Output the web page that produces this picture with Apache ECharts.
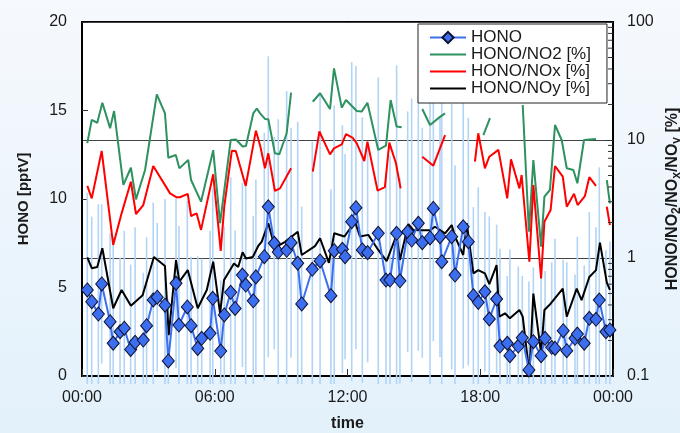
<!DOCTYPE html>
<html>
<head>
<meta charset="utf-8">
<script src="https://cdn.jsdelivr.net/npm/echarts@6/dist/echarts.min.js"></script>
<style>
  html, body { margin: 0; padding: 0; }
  #chart { width: 680px; height: 433px; }
</style>
</head>
<body>
<div id="chart"></div>
<script>
// time in hours after midnight
var timeLabels = ['00:00', '06:00', '12:00', '18:00', '00:00'];

var honoTime = [0.24, 0.44, 0.74, 0.89, 1.27, 1.41, 1.72, 1.91, 2.2, 2.4, 2.77, 2.92, 3.22, 3.4, 3.75, 3.9,
  4.25, 4.38, 4.76, 4.93, 5.23, 5.41, 5.79, 5.91, 6.27, 6.43, 6.72, 6.92, 7.25, 7.4, 7.74, 7.86,
  8.24, 8.42, 8.69, 8.87, 9.25, 9.45, 9.75, 9.93, 10.41, 10.76, 11.25, 11.4, 11.77, 11.89, 12.19, 12.38,
  12.67, 12.91, 13.39, 13.74, 13.92, 14.22, 14.37, 14.72, 14.9, 15.2, 15.38, 15.73, 15.88, 16.18, 16.26,
  16.71, 16.86, 17.23, 17.46, 17.69, 17.91, 18.21, 18.41, 18.74, 18.89, 19.22, 19.34, 19.72, 19.9, 20.2,
  20.4, 20.75, 20.93, 21.23, 21.38, 21.75, 21.91, 22.28, 22.39, 22.7, 22.93, 23.23, 23.38, 23.68, 23.86];
var honoValue = [4.86, 4.2, 3.5, 5.2, 3.07, 1.85, 2.5, 2.7, 1.5, 1.9, 2.03, 2.84, 4.3, 4.45, 4.0, 0.85,
  5.24, 2.88, 3.9, 2.84, 1.56, 2.13, 2.41, 4.39, 1.41, 3.45, 4.73, 3.82, 5.7, 5.14, 4.25, 5.6,
  6.74, 9.56, 7.5, 7.0, 7.1, 7.53, 6.37, 4.07, 6.03, 6.5, 4.54, 7.08, 7.16, 6.74, 8.72, 9.51,
  7.12, 6.97, 8.06, 5.42, 5.42, 8.06, 5.38, 8.15, 7.68, 8.63, 7.53, 7.8, 9.47, 7.87, 6.46,
  7.87, 5.7, 8.43, 7.59, 4.54, 4.16, 4.76, 3.22, 4.35, 1.69, 1.85, 1.15, 1.69, 2.16, 0.34,
  1.94, 1.15, 2.13, 1.62, 1.56, 2.56, 1.43, 2.13, 2.37, 1.85, 3.26, 3.2, 4.29, 2.5, 2.6];
var honoErr = [5.5, 4.8, 6.2, 4.5, 5.0, 6.0, 4.2, 5.5, 4.8, 6.5, 3.8, 5.0, 5.5, 4.2, 6.0, 3.5,
  4.8, 5.6, 6.0, 3.9, 5.2, 4.5, 5.8, 6.2, 4.0, 5.0, 6.5, 4.4, 5.2, 6.0, 4.8, 5.5,
  7.0, 8.5, 6.0, 7.5, 9.0, 6.5, 8.0, 5.5, 7.2, 9.5, 6.0, 8.2, 7.0, 5.8, 9.0, 8.0,
  7.5, 6.2, 8.8, 6.0, 7.0, 9.5, 5.8, 6.8, 8.0, 7.2, 6.5, 8.8, 7.5, 6.8, 9.0,
  7.5, 6.2, 8.0, 7.0, 5.0, 6.5, 4.5, 5.8, 4.2, 5.5, 3.8, 6.0, 4.5, 3.5, 5.0,
  4.2, 5.5, 3.8, 4.8, 6.2, 4.0, 5.0, 3.6, 5.5, 4.4, 6.0, 5.2, 7.5, 4.6, 5.0];

var no2Time = [0.24, 0.44, 0.69, 0.92, 1.27, 1.45, 1.87, 2.21, 2.44, 2.85, 3.38, 3.75, 3.9, 4.24, 4.4, 4.8,
  4.93, 5.38, 5.93, 6.24, 6.72, 6.96, 7.26, 7.41, 7.74, 7.9, 8.05, 8.27, 8.42, 8.72, 8.92, 9.25, 9.45,
  9.9, 10.43, 10.76, 11.21, 11.39, 11.74, 11.93, 12.42, 12.64, 12.9, 13.39, 13.74, 13.95, 14.22, 14.45,
  14.9, 15.38, 15.73, 16.18, 16.41, 17.3, 18.14, 18.44, 19.2, 19.92, 20.2, 20.4, 20.75, 20.9, 21.15,
  21.38, 21.68, 21.91, 22.21, 22.39, 22.69, 23.23, 23.5, 23.72, 23.86];
var no2Value = [9.4, 14.8, 14.0, 20.7, 12.6, 17.6, 4.16, 5.82, 3.14, 5.57, 24.4, 16.8, 7.08, 7.46, 5.75, 6.77,
  4.58, 3.0, 8.2, 1.97, 10.0, 10.1, 8.8, 8.9, 16.8, 18.5, 16.8, 15.1, 15.0, 7.71, 7.57, 11.4, 25.2,
  null, 21.1, 24.9, 18.3, 40.5, 18.8, 21.8, 17.6, 17.4, 20.7, 8.23, 8.95, 21.8, 13.0, 12.8,
  null, 18.3, 13.4, 15.7, 16.8, null, 11.0, 15.3, null, 19.8, 1.67, 6.77, 1.25, 3.31, 3.77,
  13.4, 10.0, 5.76, 5.57, 4.3, 10.0, 10.2, null, 4.58, 2.91];

var noxTime = [0.24, 0.44, 0.89, 1.41, 1.79, 2.21, 2.44, 2.77, 3.22, 3.98, 4.28, 4.43, 4.78, 4.93, 5.18, 5.38,
  5.93, 6.27, 6.43, 6.77, 6.95, 7.4, 7.86, 8.05, 8.27, 8.42, 8.72, 8.95, 9.45, 9.9, 10.43, 10.73,
  11.21, 11.39, 11.74, 11.93, 12.24, 12.42, 12.76, 12.9, 13.36, 13.69, 13.89, 14.19, 14.4, 14.9,
  15.38, 15.88, 16.41, 17.1, 17.76, 17.91, 18.21, 18.41, 18.82, 19.22, 19.39, 19.77, 19.87, 20.22,
  20.4, 20.75, 20.9, 21.18, 21.38, 21.73, 21.91, 22.24, 22.4, 22.73, 22.93, 23.23, 23.5, 23.72, 23.86];
var noxValue = [4.08, 3.2, 8.07, 1.29, 2.39, 4.43, 2.36, 2.81, 6.02, 3.53, 3.27, 3.27, 3.5, 2.27, 2.39, 1.73,
  5.12, 1.15, 2.72, 8.1, 8.07, 4.08, 12.0, 9.0, 5.76, 7.71, 3.7, 3.89, 5.76, null, 5.39, 11.8,
  7.56, 8.5, 9.2, 11.2, 10.4, 9.38, 6.64, 9.68, 3.72, 3.98, 9.5, 6.35, 3.89, null,
  7.22, 6.06, 11.0, null, 6.55, 11.4, 5.76, 7.22, 8.25, 3.2, 6.86, 3.89, 5.05, 0.93,
  4.16, 0.67, 2.03, 2.55, 6.02, 4.89, 2.72, 3.5, 2.81, 3.35, 4.84, 4.08, null, 2.72, 1.9];

var noyTime = [0.24, 0.44, 0.69, 0.92, 1.41, 1.79, 2.21, 2.74, 3.25, 3.75, 3.92, 4.25, 4.4, 4.78, 5.23, 5.64,
  5.93, 6.24, 6.42, 6.87, 7.06, 7.26, 7.41, 7.72, 7.97, 8.12, 8.42, 8.65, 8.8, 9.18, 9.75, 9.93,
  10.53, 10.76, 11.16, 11.4, 11.86, 12.34, 12.56, 12.94, 13.39, 13.77, 14.22, 14.37, 14.75, 14.97,
  15.35, 15.73, 15.95, 16.41, 16.71, 16.86, 17.23, 17.39, 17.69, 17.91, 18.21, 18.41, 18.74, 18.86,
  19.12, 19.34, 19.77, 19.92, 20.22, 20.4, 20.75, 20.9, 21.18, 21.73, 21.91, 22.36, 22.58, 22.93,
  23.23, 23.41, 23.72, 23.86];
var noyValue = [1.01, 0.82, 0.84, 1.21, 0.375, 0.536, 0.394, 0.483, 1.02, 0.856, 0.222, 0.96, 0.63, 0.79, 0.375, 0.536,
  0.93, 0.34, 0.65, 0.9, 0.84, 1.12, 0.99, 1.02, 1.27, 1.37, 1.97, 1.37, 1.25, 1.37, 1.67, 1.06,
  1.26, 1.47, 0.91, 1.62, 1.52, 2.03, 1.52, 1.57, 1.17, 0.94, 1.57, 0.96, 1.94, 1.73,
  1.72, 1.72, 1.84, 1.62, 1.9, 1.52, 1.06, 1.97, 0.74, 0.79, 0.74, 0.6, 0.87, 0.318,
  0.34, 0.308, 0.363, 0.318, 0.105, 0.5, 0.156, 0.363, 0.41, 0.55, 0.318, 0.55, 0.44, 0.69,
  0.79, 1.35, 0.62, 0.536];

var logMinorTicks = [0.2, 0.3, 0.4, 0.5, 0.6, 0.7, 0.8, 0.9, 2, 3, 4, 5, 6, 7, 8, 9, 20, 30, 40, 50, 60, 70, 80, 90];

function pairs(times, values) {
  return times.map(function (t, i) {
    return [t, values[i] == null ? '-' : values[i]];
  });
}

var font = '"Liberation Sans", Arial, sans-serif';
var ink = '#1a1a1a';

var chart = echarts.init(document.getElementById('chart'), null, { renderer: 'canvas' });

// ratio lines show only a line in the legend
var lineOnly = { opacity: 0 };

chart.setOption({
  animation: false,
  backgroundColor: {
    type: 'linear', x: 0, y: 0, x2: 0, y2: 1,
    colorStops: [{ offset: 0, color: '#f6f9fd' }, { offset: 1, color: '#e3f1fb' }]
  },
  textStyle: { fontFamily: font },
  grid: {
    left: 82, right: 67, top: 22, bottom: 57,
    outerBoundsMode: 'none',
    show: true, backgroundColor: '#ffffff', borderColor: '#000', borderWidth: 2
  },
  legend: {
    data: [
      { name: 'HONO' },
      { name: 'HONO/NO2 [%]', itemStyle: lineOnly },
      { name: 'HONO/NOx [%]', itemStyle: lineOnly },
      { name: 'HONO/NOy [%]', itemStyle: lineOnly }
    ],
    orient: 'vertical',
    left: 418, top: 24,
    backgroundColor: '#ffffff',
    borderColor: '#222', borderWidth: 1, borderRadius: 0,
    padding: [5, 16, 6, 11],
    itemWidth: 36, itemHeight: 14, itemGap: 0,
    textStyle: { fontSize: 17, lineHeight: 17, color: ink, fontFamily: font }
  },
  xAxis: {
    type: 'value', min: 0, max: 24, interval: 6,
    axisLine: { lineStyle: { color: '#000', width: 2 } },
    axisTick: { inside: true, length: 7, lineStyle: { color: '#333', width: 1 } },
    splitLine: { show: false },
    axisLabel: {
      fontSize: 16, color: ink, margin: 14,
      formatter: function (v) { return timeLabels[Math.round(v / 6)]; }
    },
    name: 'time', nameLocation: 'middle', nameGap: 40,
    nameTextStyle: { fontSize: 16, fontWeight: 'bold', color: ink }
  },
  yAxis: [
    {
      type: 'value', min: 0, max: 20, interval: 5, position: 'left',
      axisLine: { show: true, lineStyle: { color: '#000', width: 2 } },
      axisTick: { show: true, inside: true, length: 6, lineStyle: { color: '#333' } },
      splitLine: { show: false },
      axisLabel: { fontSize: 16, color: ink, margin: 15 },
      name: 'HONO [pptV]', nameLocation: 'middle', nameGap: 51,
      nameTextStyle: { fontSize: 15, fontWeight: 'bold', color: ink }
    },
    {
      type: 'log', logBase: 10, min: 0.1, max: 100, position: 'right',
      axisLine: { show: true, lineStyle: { color: '#000', width: 2 } },
      axisTick: { show: true, inside: true, length: 8, lineStyle: { color: '#333' } },
      splitLine: { show: true, lineStyle: { color: '#444', width: 1 } },
      axisLabel: {
        fontSize: 16, color: ink, margin: 14,
        formatter: function (v) { return String(+Number(v).toPrecision(3)); }
      },
      name: 'HONO/NO{s|2}/NO{s|x}/NO{s|y} [%]', nameLocation: 'middle', nameGap: 49,
      nameTextStyle: {
        fontSize: 16, fontWeight: 'bold', color: ink,
        rich: { s: { fontSize: 12, fontWeight: 'bold', color: ink, padding: [8, 0, 0, 0] } }
      }
    }
  ],
  series: [
    {
      type: 'custom', name: 'err', yAxisIndex: 0, silent: true, clip: false, z: 1,
      data: honoTime.map(function (t, i) { return [t, honoValue[i], honoErr[i]]; }),
      encode: { x: 0, y: 1 },
      renderItem: function (params, api) {
        var t = api.value(0), v = api.value(1), e = api.value(2);
        var lo = api.coord([t, Math.max(v - e, -0.45)]);
        var hi = api.coord([t, v + e]);
        return {
          type: 'line',
          shape: { x1: lo[0], y1: lo[1], x2: hi[0], y2: hi[1] },
          style: { stroke: '#b2d4f6', lineWidth: 1.6 }
        };
      }
    },
    {
      name: 'HONO/NO2 [%]', type: 'line', yAxisIndex: 1, z: 3,
      data: pairs(no2Time, no2Value), showSymbol: false, symbol: 'none',
      lineStyle: { color: '#2e9160', width: 2 }, itemStyle: { color: '#2e9160' }
    },
    {
      name: 'HONO/NOx [%]', type: 'line', yAxisIndex: 1, z: 3,
      data: pairs(noxTime, noxValue), showSymbol: false, symbol: 'none',
      lineStyle: { color: '#ff0000', width: 2 }, itemStyle: { color: '#ff0000' }
    },
    {
      name: 'HONO/NOy [%]', type: 'line', yAxisIndex: 1, z: 4,
      data: pairs(noyTime, noyValue), showSymbol: false, symbol: 'none',
      lineStyle: { color: '#000000', width: 2 }, itemStyle: { color: '#000000' }
    },
    {
      name: 'HONO', type: 'line', yAxisIndex: 0, z: 5,
      data: pairs(honoTime, honoValue),
      symbol: 'diamond', symbolSize: [12, 14], showSymbol: true,
      lineStyle: { color: '#3c6ff0', width: 2 },
      itemStyle: { color: '#3c6ff0', borderColor: '#101030', borderWidth: 1 }
    },
    {
      type: 'custom', name: 'minor', yAxisIndex: 1, silent: true, clip: false, z: 6,
      data: logMinorTicks.map(function (v) { return [24, v]; }),
      encode: { x: 0, y: 1 },
      renderItem: function (params, api) {
        var p = api.coord([24, api.value(1)]);
        return {
          type: 'line',
          shape: { x1: p[0] - 5, y1: p[1], x2: p[0], y2: p[1] },
          style: { stroke: '#333', lineWidth: 1 }
        };
      }
    }
  ]
});
</script>
</body>
</html>
